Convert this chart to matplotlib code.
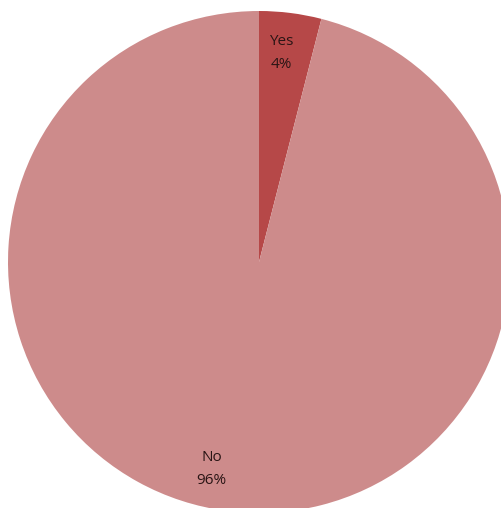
import matplotlib
matplotlib.use("Agg")
import matplotlib.pyplot as plt

categories = ["Yes", "No"]
shares = [4, 96]
colors = ["#B64848", "#CD8B8B"]

fig = plt.figure(figsize=(5.02, 5.08), dpi=100)
ax = fig.add_axes([0, 0, 1, 1])

labels = [f"{c}\n{v}%" for c, v in zip(categories, shares)]
wedges, texts = ax.pie(shares, labels=labels, colors=colors, startangle=90,
                       counterclock=False, center=(259, 246), radius=251,
                       labeldistance=0.87,
                       textprops=dict(fontsize=11, color="#2a1515",
                                      family="Open Sans", linespacing=1.75))
# nudge labels to where the original chart put them
nudges = [(-5, -8), (-20, 10)]
for t, (dx, dy) in zip(texts, nudges):
    x, y = t.get_position()
    t.set_position((x + dx, y + dy))
    t.set_ha("center")
    t.set_va("center")

ax.set_xlim(0, 502)
ax.set_ylim(0, 508)
ax.set_aspect("equal")
ax.axis("off")

fig.savefig("out.png", dpi=100)
